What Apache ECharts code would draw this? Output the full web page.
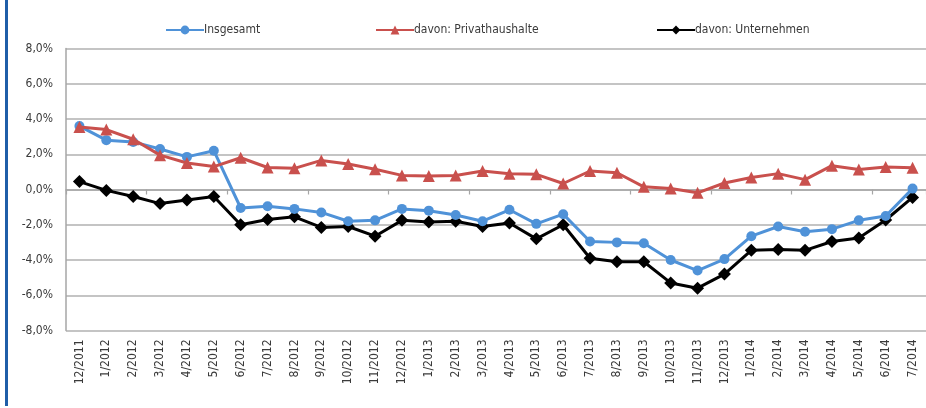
<!DOCTYPE html>
<html>
<head>
<meta charset="utf-8">
<script src="https://cdn.jsdelivr.net/npm/echarts@6/dist/echarts.min.js"></script>
<style>
  html, body { margin: 0; padding: 0; background: #ffffff; }
  #chart { width: 926px; height: 408px; }
</style>
</head>
<body>
<div id="chart"></div>
<script>
// Monthly year-on-year change, 12/2011 – 7/2014
const months = [
  '12/2011', '1/2012', '2/2012', '3/2012', '4/2012', '5/2012', '6/2012', '7/2012',
  '8/2012', '9/2012', '10/2012', '11/2012', '12/2012', '1/2013', '2/2013', '3/2013',
  '4/2013', '5/2013', '6/2013', '7/2013', '8/2013', '9/2013', '10/2013', '11/2013',
  '12/2013', '1/2014', '2/2014', '3/2014', '4/2014', '5/2014', '6/2014', '7/2014'
];

const insgesamt = [
  3.6, 2.8, 2.7, 2.3, 1.85, 2.2, -1.05, -0.95, -1.1, -1.3, -1.8, -1.75, -1.1, -1.2, -1.45, -1.8,
  -1.15, -1.95, -1.4, -2.95, -3.0, -3.05, -4.0, -4.6, -3.95, -2.65, -2.1, -2.4, -2.25, -1.75, -1.5, 0.05
];

const privathaushalte = [
  3.55, 3.4, 2.85, 1.95, 1.5, 1.3, 1.8, 1.25, 1.2, 1.65, 1.45, 1.15, 0.8, 0.77, 0.8, 1.05,
  0.9, 0.86, 0.34, 1.05, 0.95, 0.15, 0.06, -0.19, 0.37, 0.68, 0.9, 0.56, 1.35, 1.13, 1.27, 1.24
];

const unternehmen = [
  0.45, -0.05, -0.4, -0.8, -0.6, -0.4, -2.0, -1.7, -1.55, -2.15, -2.1, -2.65, -1.75, -1.85, -1.8, -2.1,
  -1.9, -2.8, -2.0, -3.9, -4.1, -4.1, -5.3, -5.6, -4.8, -3.45, -3.4, -3.45, -2.95, -2.75, -1.73, -0.45
];

const yTicks = { min: -8, max: 8, step: 2 };

const FONT = '"Liberation Sans Narrow", "DejaVu Sans Condensed", "Liberation Sans", sans-serif';
const TEXT = '#3a3a3a';
const GRID = '#c4c4c4';

const chart = echarts.init(document.getElementById('chart'), null, { renderer: 'canvas' });

function fmtPct(v) {
  return v.toFixed(1).replace('.', ',') + '%';
}

function legendAt(name, left) {
  return {
    data: [name],
    left: left,
    top: 19,
    itemWidth: 38,
    itemHeight: 11,
    itemGap: 0,
    textStyle: { fontFamily: FONT, fontSize: 12, color: TEXT, padding: [0, 0, 0, -5] },
    selectedMode: false
  };
}

chart.setOption({
  animation: false,
  backgroundColor: '#ffffff',
  grid: { left: 66, right: 0, top: 48.5, bottom: 77.5, containLabel: false },
  legend: [
    legendAt('Insgesamt', 160),
    legendAt('davon: Privathaushalte', 370),
    legendAt('davon: Unternehmen', 651)
  ],
  xAxis: [
    {
      type: 'category',
      data: months,
      boundaryGap: true,
      position: 'bottom',
      axisLine: { onZero: true, lineStyle: { color: '#a6a6a6', width: 1.5 } },
      axisTick: { show: true, alignWithLabel: false, length: 5, lineStyle: { color: '#a6a6a6', width: 1.2 } },
      axisLabel: { show: false },
      splitLine: { show: false }
    },
    {
      type: 'category',
      data: months,
      boundaryGap: true,
      position: 'bottom',
      axisLine: { show: false, onZero: false },
      axisTick: { show: false },
      axisLabel: {
        show: true,
        rotate: 90,
        interval: 0,
        margin: 9,
        fontFamily: FONT,
        fontSize: 12,
        color: TEXT
      },
      splitLine: { show: false }
    }
  ],
  yAxis: {
    type: 'value',
    min: yTicks.min,
    max: yTicks.max,
    interval: yTicks.step,
    axisLine: { show: true, lineStyle: { color: '#a6a6a6', width: 1.5 } },
    axisTick: { show: false },
    axisLabel: {
      formatter: fmtPct,
      fontFamily: FONT,
      fontSize: 12,
      color: TEXT,
      margin: 13
    },
    splitLine: { show: true, lineStyle: { color: GRID, width: 2 } }
  },
  series: [
    {
      name: 'Insgesamt',
      type: 'line',
      xAxisIndex: 0,
      data: insgesamt,
      symbol: 'circle',
      symbolSize: 10,
      lineStyle: { color: '#4f92d8', width: 3 },
      itemStyle: { color: '#4f92d8' },
      z: 3
    },
    {
      name: 'davon: Privathaushalte',
      type: 'line',
      xAxisIndex: 0,
      data: privathaushalte,
      symbol: 'triangle',
      symbolSize: 12,
      lineStyle: { color: '#c9504d', width: 3 },
      itemStyle: { color: '#c9504d' },
      z: 4
    },
    {
      name: 'davon: Unternehmen',
      type: 'line',
      xAxisIndex: 0,
      data: unternehmen,
      symbol: 'diamond',
      symbolSize: 13,
      lineStyle: { color: '#000000', width: 3 },
      itemStyle: { color: '#000000' },
      z: 2
    }
  ],
  graphic: [
    {
      type: 'rect',
      left: 5,
      top: 0,
      shape: { width: 3, height: 406 },
      style: { fill: '#1f5ea8' },
      silent: true
    }
  ]
});
</script>
</body>
</html>
